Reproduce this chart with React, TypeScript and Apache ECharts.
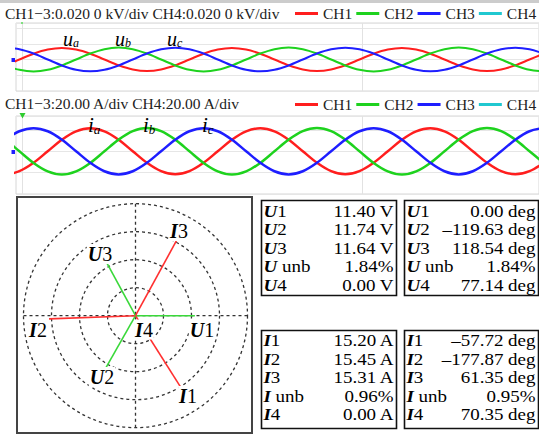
import React, { useEffect, useRef } from "react";
import * as echarts from "echarts";

const FONT = "'Liberation Serif', 'Times New Roman', serif";

// legend / channels
const channelNames = ["CH1", "CH2", "CH3", "CH4"];
const channelColors = ["#ff1e1e", "#1ed21e", "#1e1eff", "#20c8d0"];

const voltTitle = "CH1\u22123:0.020 0 kV/div CH4:0.020 0 kV/div";
const currTitle = "CH1\u22123:20.00 A/div CH4:20.00 A/div";

// oscilloscope samples, one sample every 1/12 period (30 deg)
// voltage (V)
const ua = [-13.9, -8.1, 0, 8.1, 13.9, 16.1, 13.9, 8.1, 0, -8.1, -13.9, -16.1, -13.9, -8.1, 0, 8.1, 13.9, 16.1, 13.9, 8.1, 0, -8.1, -13.9, -16.1, -13.9, -8.1, 0, 8.1, 13.9, 16.1, 13.9, 8.1, 0, -8.1, -13.9, -16.1, -13.9, -8.1, 0, 8.1];
const ub = [0, -8.3, -14.4, -16.6, -14.4, -8.3, 0, 8.3, 14.4, 16.6, 14.4, 8.3, 0, -8.3, -14.4, -16.6, -14.4, -8.3, 0, 8.3, 14.4, 16.6, 14.4, 8.3, 0, -8.3, -14.4, -16.6, -14.4, -8.3, 0, 8.3, 14.4, 16.6, 14.4, 8.3, 0, -8.3, -14.4, -16.6];
const uc = [14.3, 16.5, 14.3, 8.3, 0, -8.3, -14.3, -16.5, -14.3, -8.3, 0, 8.3, 14.3, 16.5, 14.3, 8.3, 0, -8.3, -14.3, -16.5, -14.3, -8.3, 0, 8.3, 14.3, 16.5, 14.3, 8.3, 0, -8.3, -14.3, -16.5, -14.3, -8.3, 0, 8.3, 14.3, 16.5, 14.3, 8.3];
// current (A)
const ia = [-18.6, -21.5, -18.6, -10.8, 0, 10.8, 18.6, 21.5, 18.6, 10.8, 0, -10.8, -18.6, -21.5, -18.6, -10.8, 0, 10.8, 18.6, 21.5, 18.6, 10.8, 0, -10.8, -18.6, -21.5, -18.6, -10.8, 0, 10.8, 18.6, 21.5, 18.6, 10.8, 0, -10.8, -18.6, -21.5, -18.6, -10.8];
const ib = [18.9, 10.9, 0, -10.9, -18.9, -21.85, -18.9, -10.9, 0, 10.9, 18.9, 21.85, 18.9, 10.9, 0, -10.9, -18.9, -21.85, -18.9, -10.9, 0, 10.9, 18.9, 21.85, 18.9, 10.9, 0, -10.9, -18.9, -21.85, -18.9, -10.9, 0, 10.9, 18.9, 21.85, 18.9, 10.9, 0, -10.9];
const ic = [0, 10.8, 18.7, 21.65, 18.7, 10.8, 0, -10.8, -18.7, -21.65, -18.7, -10.8, 0, 10.8, 18.7, 21.65, 18.7, 10.8, 0, -10.8, -18.7, -21.65, -18.7, -10.8, 0, 10.8, 18.7, 21.65, 18.7, 10.8, 0, -10.8, -18.7, -21.65, -18.7, -10.8, 0, 10.8, 18.7, 21.65];

// phasor / table values
const phaseNames = ["1", "2", "3"];
const uMag = [11.4, 11.74, 11.64];
const uAng = [0.0, -119.63, 118.54];
const uUnbMag = 1.84;
const uUnbAng = 1.84;
const u4Mag = 0.0;
const u4Ang = 77.14;
const iMag = [15.2, 15.45, 15.31];
const iAng = [-57.72, -177.87, 61.35];
const iUnbMag = 0.96;
const iUnbAng = 0.95;
const i4Mag = 0.0;
const i4Ang = 70.35;

const fmt = (v: number) => (v < 0 ? "\u2013" : "") + Math.abs(v).toFixed(2);
const norm = (a: number) => ((a % 360) + 360) % 360;

function richLbl(size: number, lh?: number) {
  const base: any = { fontSize: size, fontFamily: FONT, fill: "#000", color: "#000" };
  if (lh) base.lineHeight = lh;
  return {
    l: { ...base, fontStyle: "italic", fontWeight: "bold" },
    d: { ...base },
  };
}

function txt(text: string, x: number, y: number, size: number, align: string, extra: any = {}, el: any = {}) {
  return {
    type: "text",
    x,
    y,
    z: 50,
    ...el,
    style: {
      text,
      fill: "#000",
      fontSize: size,
      fontFamily: FONT,
      align,
      textAlign: align,
      verticalAlign: "middle",
      textVerticalAlign: "middle",
      ...extra,
    },
  };
}

// italic variable with subscript, as one text
function waveLbl(main: string, sub: string, x: number, y: number, size: number, subSize: number, subLh: number) {
  return txt(`{m|${main}}{s|${sub}}`, x, y, size, "left", {
    rich: {
      m: { fontSize: size, lineHeight: size, fontFamily: FONT, fontStyle: "italic", fill: "#000", color: "#000" },
      s: { fontSize: subSize, lineHeight: subLh, fontFamily: FONT, fontStyle: "italic", fill: "#000", color: "#000", verticalAlign: "bottom" },
    },
  });
}

export default function App() {
  const ref = useRef<HTMLDivElement>(null);
  useEffect(() => {
    if (!ref.current) return;
    const chart = echarts.init(ref.current, undefined, { renderer: "svg" });

    const withIndex = (vals: number[]) => vals.map((v, i) => [i, v]);

    const waveSeries = (name: string, vals: number[], idx: number, color: string, width: number) => ({
      name,
      type: "line",
      xAxisIndex: idx,
      yAxisIndex: idx,
      data: withIndex(vals),
      smooth: 0.33,
      symbol: "none",
      clip: true,
      lineStyle: { color, width },
      itemStyle: { color },
      z: 3,
    });

    const gridMarks = {
      silent: true,
      symbol: ["none", "none"],
      label: { show: false },
      lineStyle: { color: "#e2e2e2", type: "solid", width: 1 },
      data: [{ xAxis: 2.18 }, { xAxis: 26.18 }],
      z: 1,
    };

    const series: any[] = [];
    const volt = [ua, ub, uc];
    const curr = [ia, ib, ic];
    for (let k = 0; k < 3; k++) {
      const s: any = waveSeries(channelNames[k], volt[k], 0, channelColors[k], 2);
      if (k === 0) s.markLine = gridMarks;
      series.push(s);
    }
    series.push({ name: "CH4", type: "line", xAxisIndex: 0, yAxisIndex: 0, data: [], symbol: "none", lineStyle: { color: channelColors[3] }, itemStyle: { color: channelColors[3] } });
    for (let k = 0; k < 3; k++) {
      const s: any = waveSeries(channelNames[k], curr[k], 1, channelColors[k], 2.5);
      if (k === 0) s.markLine = gridMarks;
      series.push(s);
    }
    series.push({ name: "CH4", type: "line", xAxisIndex: 1, yAxisIndex: 1, data: [], symbol: "none", lineStyle: { color: channelColors[3] }, itemStyle: { color: channelColors[3] } });

    // phasors
    const vecGreen = "#3ad83a";
    const vecRed = "#ff3030";
    for (let k = 0; k < 3; k++) {
      series.push({
        name: "U" + phaseNames[k],
        type: "line",
        coordinateSystem: "polar",
        polarIndex: 1,
        data: [[0, norm(uAng[k])], [uMag[k], norm(uAng[k])]],
        symbol: "none",
        lineStyle: { color: vecGreen, width: 1.6 },
        z: 3,
      });
      series.push({
        name: "I" + phaseNames[k],
        type: "line",
        coordinateSystem: "polar",
        polarIndex: 0,
        data: [[0, norm(iAng[k])], [iMag[k], norm(iAng[k])]],
        symbol: "none",
        lineStyle: { color: vecRed, width: 1.6 },
        z: 3,
      });
    }

    const dashed = { color: "#333", type: [3, 3], width: 1.3 };
    const cx = 135.5;
    const cy = 315.7;

    const graphic: any[] = [
      { type: "rect", z: 1, shape: { x: 0, y: 0, width: 539, height: 3 }, style: { fill: "#cccccc" } },
      // channel markers
      { type: "rect", z: 50, shape: { x: 11.5, y: 58, width: 3.5, height: 4 }, style: { fill: "#1e1eff" } },
      { type: "rect", z: 50, shape: { x: 11.5, y: 150, width: 3.5, height: 4 }, style: { fill: "#1e1eff" } },
      { type: "rect", z: 50, shape: { x: 21, y: 22, width: 2, height: 2 }, style: { fill: "#7ee07e" } },
      { type: "polygon", z: 50, shape: { points: [[19.5, 113], [25.5, 113], [22.5, 118.5]] }, style: { fill: "#2ecc2e" } },
      // waveform labels
      waveLbl("u", "a", 63, 39, 20, 12, 15),
      waveLbl("u", "b", 115, 38.5, 20, 12, 13),
      waveLbl("u", "c", 167, 39, 20, 12, 15),
      waveLbl("i", "a", 88, 125, 21, 13, 15),
      waveLbl("i", "b", 143, 125, 21, 13, 17),
      waveLbl("i", "c", 202, 125, 21, 13, 15),
      // phasor panel frame
      { type: "rect", z: 40, shape: { x: 17, y: 197, width: 235, height: 236 }, style: { fill: "none", stroke: "#444", lineWidth: 2 } },
    ];

    const phasorLabels: [string, string, number, number][] = [
      ["I", "3", 179, 231],
      ["U", "3", 100, 254],
      ["I", "2", 38, 330],
      ["I", "4", 144, 329.5],
      ["U", "1", 202, 329.5],
      ["U", "2", 102, 377],
      ["I", "1", 188, 396],
    ];
    for (const [l, d, x, y] of phasorLabels) {
      graphic.push(
        txt(`{l|${l}}{d|${d}}`, x, y, 20, "center", { rich: richLbl(20), backgroundColor: "#fff", padding: [0, 1, 0, 1] })
      );
    }

    // tables
    const boxes = [
      { x: 261, y: 200, w: 135, h: 95 },
      { x: 404, y: 200, w: 134, h: 95 },
      { x: 261, y: 330, w: 135, h: 98 },
      { x: 404, y: 330, w: 134, h: 98 },
    ];
    for (const b of boxes) {
      graphic.push({ type: "rect", z: 40, shape: { x: b.x + 0.5, y: b.y + 0.5, width: b.w, height: b.h }, style: { fill: "none", stroke: "#111", lineWidth: 1.6 } });
    }
    const suffixes = [...phaseNames, " unb", "4"];
    const LH = 18.5;
    const TS = 16.5;
    const SX = 1.15;
    const tables = [
      { letter: "U", lx: 263.5, rx: 393.5, y0: 211, vals: [...uMag.map((v) => fmt(v) + " V"), fmt(uUnbMag) + "%", fmt(u4Mag) + " V"] },
      { letter: "U", lx: 406.5, rx: 535.5, y0: 211, vals: [...uAng.map((v) => fmt(v) + " deg"), fmt(uUnbAng) + "%", fmt(u4Ang) + " deg"] },
      { letter: "I", lx: 263.5, rx: 393.5, y0: 340.5, vals: [...iMag.map((v) => fmt(v) + " A"), fmt(iUnbMag) + "%", fmt(i4Mag) + " A"] },
      { letter: "I", lx: 406.5, rx: 535.5, y0: 340.5, vals: [...iAng.map((v) => fmt(v) + " deg"), fmt(iUnbAng) + "%", fmt(i4Ang) + " deg"] },
    ];
    for (const t of tables) {
      suffixes.forEach((s, k) => {
        const y = t.y0 + LH * k;
        graphic.push(txt(`{l|${t.letter}}{d|${s}}`, t.lx, y, TS, "left", { rich: richLbl(TS) }, { scaleX: SX }));
        graphic.push(txt(t.vals[k], t.rx, y, TS, "right", {}, { scaleX: SX }));
      });
    }

    const hiddenAxis = { axisLine: { show: false }, axisTick: { show: false }, axisLabel: { show: false } };

    chart.setOption({
      animation: false,
      backgroundColor: "#fff",
      title: [
        { text: voltTitle, left: 5, top: 5.5, padding: 0, textStyle: { fontFamily: FONT, fontSize: 15.5, fontWeight: "normal", color: "#222" } },
        { text: currTitle, left: 5, top: 95, padding: 0, textStyle: { fontFamily: FONT, fontSize: 15.5, fontWeight: "normal", color: "#222" } },
      ],
      legend: [5.5, 96.5].map((top) => ({
        data: channelNames,
        left: 295,
        top,
        padding: 0,
        icon: "rect",
        itemWidth: 23,
        itemHeight: 3,
        itemGap: 4,
        selectedMode: false,
        textStyle: { fontFamily: FONT, fontSize: 15.5, color: "#222" },
      })),
      grid: [
        { left: 16, top: 23, width: 523, height: 68, show: true, borderColor: "#d6d6d6", borderWidth: 1 },
        { left: 16, top: 116, width: 523, height: 78, show: true, borderColor: "#d6d6d6", borderWidth: 1 },
      ],
      xAxis: [
        { gridIndex: 0, type: "value", min: 1.76, max: 38.67, show: false },
        { gridIndex: 1, type: "value", min: 1.76, max: 38.67, show: false },
      ],
      yAxis: [
        { gridIndex: 0, type: "value", min: -44, max: 51, interval: 22, ...hiddenAxis, splitLine: { show: true, lineStyle: { color: "#e6e6e6", width: 1 } } },
        { gridIndex: 1, type: "value", min: -40, max: 33, interval: 20, ...hiddenAxis, splitLine: { show: true, lineStyle: { color: "#e6e6e6", width: 1 } } },
      ],
      polar: [
        { center: [cx, cy], radius: 112 },
        { center: [cx, cy], radius: 112 },
      ],
      angleAxis: [
        { polarIndex: 0, type: "value", min: 0, max: 360, interval: 90, startAngle: 0, clockwise: false, ...hiddenAxis, splitLine: { show: true, lineStyle: dashed } },
        { polarIndex: 1, type: "value", min: 0, max: 360, interval: 90, startAngle: 0, clockwise: false, ...hiddenAxis, splitLine: { show: false } },
      ],
      radiusAxis: [
        { polarIndex: 0, type: "value", min: 0, max: 20, interval: 5, ...hiddenAxis, splitLine: { show: true, lineStyle: dashed } },
        { polarIndex: 1, type: "value", min: 0, max: 21.5, ...hiddenAxis, splitLine: { show: false } },
      ],
      series,
      graphic,
    });
    return () => chart.dispose();
  }, []);
  return <div ref={ref} style={{ position: "absolute", left: 0, top: 0, width: 539, height: 434 }} />;
}
